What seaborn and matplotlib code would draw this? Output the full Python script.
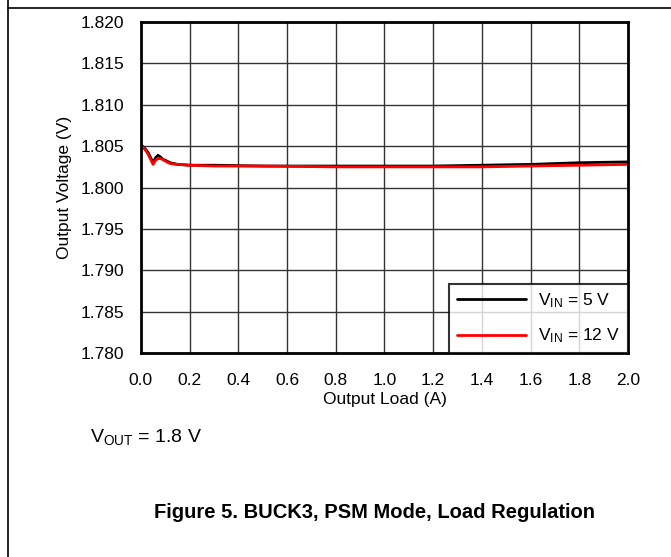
import pandas as pd
import numpy as np
import seaborn as sns
import matplotlib
matplotlib.use("Agg")
import matplotlib.pyplot as plt

load = [0, 0.01, 0.02, 0.03, 0.04, 0.05, 0.06, 0.07, 0.08, 0.09, 0.1, 0.12, 0.15,
        0.2, 0.3, 0.5, 0.8, 1.0, 1.2, 1.4, 1.6, 1.8, 2.0]
v_5v = [1.8052, 1.8049, 1.8046, 1.8042, 1.8036, 1.8030, 1.8036, 1.8039, 1.8037, 1.8034,
        1.8033, 1.8030, 1.8028, 1.8027, 1.8027, 1.8026, 1.8026, 1.8026, 1.8026, 1.8027,
        1.8028, 1.8030, 1.8031]
v_12v = [1.8051, 1.8048, 1.8045, 1.8040, 1.8034, 1.8028, 1.8033, 1.8035, 1.8035, 1.8034,
         1.8032, 1.8029, 1.8028, 1.8027, 1.8026, 1.8026, 1.8025, 1.8025, 1.8025, 1.8025,
         1.8026, 1.8027, 1.8028]
labels = [r'$\mathrm{V_{IN}}$ = 5 V', r'$\mathrm{V_{IN}}$ = 12 V']

df = pd.DataFrame({
    'load': load + load,
    'vout': v_5v + v_12v,
    'vin': [labels[0]] * len(load) + [labels[1]] * len(load),
})

sns.set_style("white")
plt.rcParams['font.family'] = ['Liberation Sans', 'DejaVu Sans']
plt.rcParams['mathtext.fontset'] = 'custom'
plt.rcParams['mathtext.rm'] = 'Liberation Sans'
plt.rcParams['mathtext.it'] = 'Liberation Sans:italic'
for k in ['text.color', 'axes.labelcolor', 'xtick.color', 'ytick.color']:
    plt.rcParams[k] = 'black'

fig = plt.figure(figsize=(6.71, 5.57), dpi=100)
ax = fig.add_axes([0.210, 0.366, 0.726, 0.5945])

sns.lineplot(data=df, x='load', y='vout', hue='vin', palette=['black', 'red'],
             linewidth=2, ax=ax, sort=False)

ax.set_xlim(0, 2.0)
ax.set_ylim(1.780, 1.820)
ax.set_xticks(np.arange(0, 2.01, 0.2))
ax.set_yticks(np.arange(1.780, 1.8201, 0.005))
ax.set_xticklabels([f'{v:.1f}' for v in np.arange(0, 2.01, 0.2)])
ax.set_yticklabels([f'{v:.3f}' for v in np.arange(1.780, 1.8201, 0.005)])
ax.tick_params(labelsize=12.5, length=0)
ax.tick_params(axis='x', pad=14)
ax.tick_params(axis='y', pad=12)
ax.grid(True, color='#333333', linewidth=1)
for s in ax.spines.values():
    s.set_color('black')
    s.set_linewidth(2)
ax.set_xlabel('Output Load (A)', fontsize=12.5, labelpad=3)
ax.set_ylabel('Output Voltage (V)', fontsize=12.5, labelpad=6)

leg = ax.legend(loc='lower right', fontsize=12.5, frameon=True, fancybox=False,
                borderaxespad=0, handlelength=4, labelspacing=0.95,
                borderpad=0.45, handletextpad=0.7, title=None)
leg.get_frame().set_edgecolor('black')
leg.get_frame().set_linewidth(1.5)

fig.text(90 / 671, 1 - 437 / 557, r'$\mathrm{V_{OUT}}$ = 1.8 V', fontsize=14,
         va='center', ha='left')
fig.text(375 / 671, 1 - 512 / 557, 'Figure 5. BUCK3, PSM Mode, Load Regulation',
         fontsize=14.5, fontweight='bold', va='center', ha='center')

# page frame lines
fig.add_artist(plt.Line2D([8 / 671, 8 / 671], [0, 1], color='black', linewidth=1.2,
                          transform=fig.transFigure))
fig.add_artist(plt.Line2D([8 / 671, 1], [1 - 8 / 557, 1 - 8 / 557], color='black',
                          linewidth=1.2, transform=fig.transFigure))

fig.savefig('out.png', dpi=100)
